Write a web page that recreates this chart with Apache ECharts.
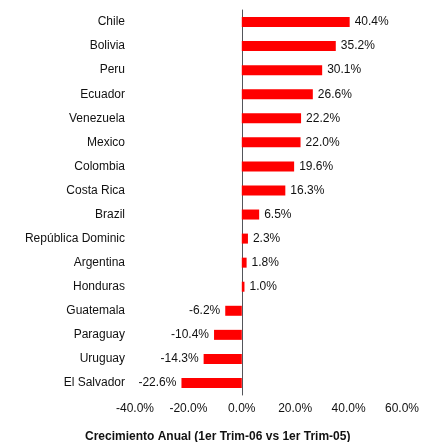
<!DOCTYPE html>
<html>
<head>
<meta charset="utf-8">
<script src="https://cdn.jsdelivr.net/npm/echarts@6/dist/echarts.min.js"></script>
<style>
  html, body { margin: 0; padding: 0; background: #fff; }
  #chart { width: 424px; height: 442px; }
</style>
</head>
<body>
<div id="chart"></div>
<script>
const paises = [
  "Chile", "Bolivia", "Peru", "Ecuador", "Venezuela", "Mexico", "Colombia",
  "Costa Rica", "Brazil", "República Dominic", "Argentina", "Honduras",
  "Guatemala", "Paraguay", "Uruguay", "El Salvador"
];
const crecimiento = [40.4, 35.2, 30.1, 26.6, 22.2, 22.0, 19.6, 16.3, 6.5, 2.3, 1.8, 1.0, -6.2, -10.4, -14.3, -22.6];
const ejeX = { min: -40, max: 60, step: 20 };
const tituloEje = "Crecimiento Anual (1er Trim-06 vs 1er Trim-05)";

const chart = echarts.init(document.getElementById("chart"));
chart.setOption({
  animation: false,
  title: {
    text: tituloEje,
    left: 80,
    top: 426,
    textStyle: { fontSize: 12, fontWeight: "bold", color: "#111" }
  },
  grid: { left: 135, right: 22, top: 10, bottom: 47 },
  xAxis: {
    type: "value",
    min: ejeX.min,
    max: ejeX.max,
    interval: ejeX.step,
    splitLine: { show: false },
    axisLabel: { color: "#111", fontSize: 12, margin: 8, formatter: "{value}.0%" }
  },
  yAxis: {
    type: "category",
    data: paises,
    inverse: true,
    axisLine: { show: true, onZero: true },
    axisLabel: { color: "#111", fontSize: 12, margin: 10 }
  },
  series: [
    {
      type: "bar",
      barWidth: 10,
      itemStyle: { color: "#ff0000" },
      data: crecimiento.map((v) => ({
        value: v.toFixed(1),
        label: { position: v >= 0 ? "right" : "left" }
      })),
      label: { show: true, distance: 5, color: "#111", fontSize: 12, formatter: "{c}%" }
    }
  ]
});
</script>
</body>
</html>
